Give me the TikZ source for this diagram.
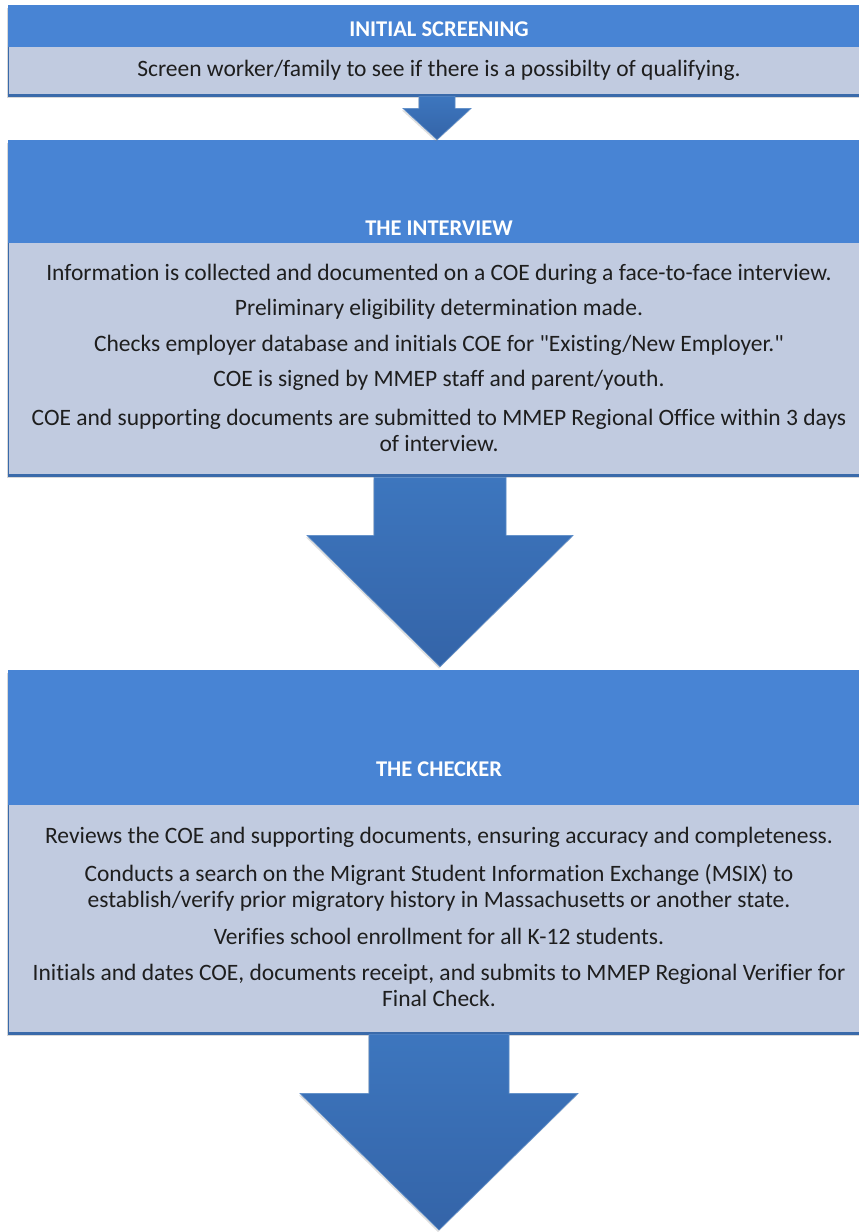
\documentclass[tikz,border=0pt]{standalone}
\usepackage{fontspec}
\setmainfont{Carlito}[Ligatures={TeXOff,NoCommon}]
\usetikzlibrary{calc,shadows}
\definecolor{hdr}{HTML}{4884D4}
\definecolor{bodyc}{HTML}{C1CBE0}
\definecolor{edgec}{HTML}{3A6AAA}
\definecolor{arrtop}{HTML}{3D76BE}
\definecolor{arrbot}{HTML}{3464A8}
\definecolor{txt}{HTML}{1E1E1E}
\tikzset{
  panel/.style={draw=edgec, line width=0.8pt, fill=bodyc, inner sep=0pt, rectangle,
    drop shadow={shadow xshift=-1.5pt, shadow yshift=-3pt, opacity=0.3}},
  hdrfill/.style={fill=hdr},
  bottomline/.style={draw=edgec, line width=2.5pt},
  titletext/.style={font=\bfseries\fontsize{22.5}{26}\selectfont, text=white, inner sep=0pt},
  bodytext/.style={font=\fontsize{23.5}{26}\selectfont, text=txt, align=center, inner sep=0pt},
  blockarrow/.style={top color=arrtop, bottom color=arrbot, draw=arrtop!85!white, line width=0.6pt,
    drop shadow={shadow xshift=-1pt, shadow yshift=-2pt, opacity=0.25}}
}
\newcommand\blockarr[5]{%
  \path[blockarrow] ($(#1)+(-#3,0)$) -- ($(#1)+(#3,0)$) -- ($(#1)+(#3,#5)$) -- ($(#1)+(#4,#5)$)
    -- (#2) -- ($(#1)+(-#4,#5)$) -- ($(#1)+(-#3,#5)$) -- cycle;}
\begin{document}
\begin{tikzpicture}[x=1pt,y=-1pt]
\useasboundingbox (0,0) rectangle (859,1232);
\fill[white] (0,0) rectangle (859,1232);
% boxes
\node[panel, minimum width=862pt, minimum height=90pt] (b1) at (439,50) {};
\node[panel, minimum width=862pt, minimum height=335pt] (b2) at (439,307.5) {};
\node[panel, minimum width=862pt, minimum height=363pt] (b3) at (439,851.5) {};
% headers
\fill[hdrfill] ($(b1.north west)+(0.4,0.4)$) rectangle ($(b1.north east)+(-0.4,42)$);
\fill[hdrfill] ($(b2.north west)+(0.4,0.4)$) rectangle ($(b2.north east)+(-0.4,103)$);
\fill[hdrfill] ($(b3.north west)+(0.4,0.4)$) rectangle ($(b3.north east)+(-0.4,135)$);
\draw[bottomline] (b1.south west) -- (b1.south east);
\draw[bottomline] (b2.south west) -- (b2.south east);
\draw[bottomline] (b3.south west) -- (b3.south east);
% titles
\node[titletext] (t1) at ($(b1.north)+(0,25)$) {INITIAL SCREENING};
\node[titletext] (t2) at ($(b2.north)+(0,89)$) {THE INTERVIEW};
\node[titletext] (t3) at ($(b3.north)+(0,100)$) {THE CHECKER};
% body texts
\node[bodytext] (s1) at ($(b1.north)+(0,66)$) {Screen worker/family to see if there is a possibilty of qualifying.};
\node[bodytext] (i1) at ($(b2.north)+(0,135)$) {Information is collected and documented on a COE during a face-to-face interview.};
\node[bodytext] (i2) at ($(b2.north)+(0,170)$) {Preliminary eligibility determination made.};
\node[bodytext] (i3) at ($(b2.north)+(0,206)$) {Checks employer database and initials COE for "Existing/New Employer."};
\node[bodytext] (i4) at ($(b2.north)+(0,241)$) {COE is signed by MMEP staff and parent/youth.};
\node[bodytext] (i5) at ($(b2.north)+(0,291)$) {COE and supporting documents are submitted to MMEP Regional Office within 3 days\\ of interview.};
\node[bodytext] (c1) at ($(b3.north)+(0,168)$) {Reviews the COE and supporting documents, ensuring accuracy and completeness.};
\node[bodytext] (c2) at ($(b3.north)+(0,218)$) {Conducts a search on the Migrant Student Information Exchange (MSIX) to\\ establish/verify prior migratory history in Massachusetts or another state.};
\node[bodytext] (c3) at ($(b3.north)+(0,267)$) {Verifies school enrollment for all K-12 students.};
\node[bodytext] (c4) at ($(b3.north)+(0,316)$) {Initials and dates COE, documents receipt, and submits to MMEP Regional Verifier for\\ Final Check.};
% arrows
\coordinate (a1s) at ($(b1.south)+(-2,1)$);
\coordinate (a1e) at ($(b2.north)+(-2,0)$);
\blockarr{a1s}{a1e}{18}{34}{12}
\coordinate (a2s) at ($(b2.south)+(1,2)$);
\coordinate (a2e) at ($(b3.north)+(1,-3)$);
\blockarr{a2s}{a2e}{66}{133}{58}
\coordinate (a3s) at ($(b3.south)+(0,1)$);
\coordinate (a3e) at (439,1230);
\blockarr{a3s}{a3e}{70}{139}{59}
\end{tikzpicture}
\end{document}
